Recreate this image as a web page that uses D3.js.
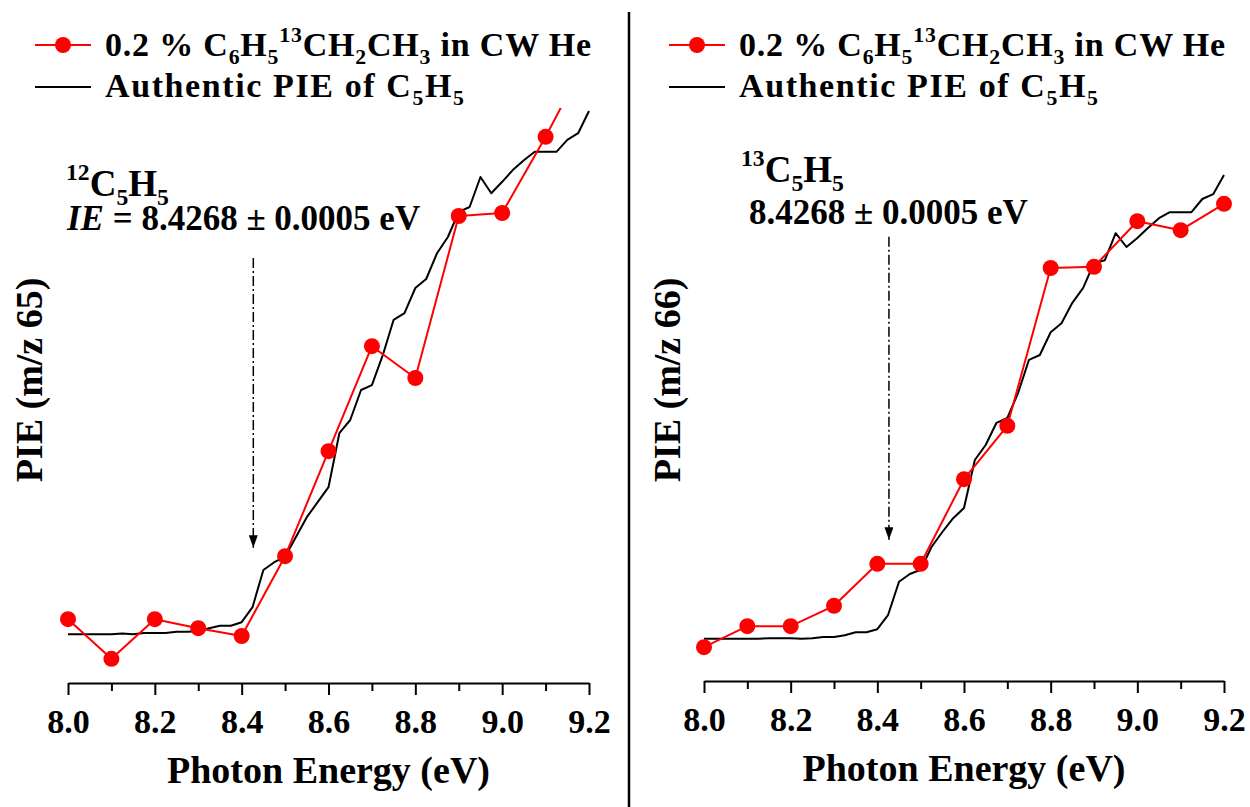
<!DOCTYPE html>
<html>
<head>
<meta charset="utf-8">
<script src="https://cdn.jsdelivr.net/npm/d3@7"></script>
<style>
  body { margin: 0; background: #fff; }
  svg { display: block; }
  svg text { font-family: "Liberation Serif", "DejaVu Serif", serif; font-weight: bold; white-space: pre; }
</style>
</head>
<body>
<svg id="chart" width="1250" height="807"></svg>
<script>
// Photon energies of the sample scan (eV)
const sampleEnergies = [8.0, 8.1, 8.2, 8.3, 8.4, 8.5, 8.6, 8.7, 8.8, 8.9, 9.0, 9.1, 9.2];

// PIE of the 0.2 % C6H5-13CH2CH3 sample (arb. units)
const pie65Sample = [1.08, 0.42, 1.08, 0.93, 0.80, 2.13, 3.88, 5.63, 5.10, 7.80, 7.85, 9.12, 10.50];
const pie66Sample = [0.58, 0.93, 0.93, 1.27, 1.97, 1.97, 3.38, 4.27, 6.90, 6.92, 7.68, 7.53, 7.97];

// Photon energies of the authentic C5H5 reference scan (eV)
const refEnergies = [
  8.000, 8.025, 8.050, 8.075, 8.100, 8.125, 8.150, 8.175, 8.200, 8.225,
  8.250, 8.275, 8.300, 8.325, 8.350, 8.375, 8.400, 8.425, 8.450, 8.475,
  8.500, 8.525, 8.550, 8.575, 8.600, 8.625, 8.650, 8.675, 8.700, 8.725,
  8.750, 8.775, 8.800, 8.825, 8.850, 8.875, 8.900, 8.925, 8.950, 8.975,
  9.000, 9.025, 9.050, 9.075, 9.100, 9.125, 9.150, 9.175, 9.200
];

// Authentic PIE of C5H5, scaled onto each panel (arb. units)
const pie65Reference = [
  0.83, 0.83, 0.83, 0.83, 0.83, 0.84, 0.83, 0.85, 0.85, 0.85,
  0.87, 0.87, 0.88, 0.93, 0.97, 0.97, 1.03, 1.28, 1.90, 2.03,
  2.12, 2.45, 2.78, 3.03, 3.28, 4.18, 4.40, 4.90, 4.98, 5.48,
  6.07, 6.18, 6.60, 6.75, 7.18, 7.45, 7.87, 7.95, 8.45, 8.18,
  8.37, 8.57, 8.73, 8.87, 8.87, 8.87, 9.07, 9.18, 9.55
];
const pie66Reference = [
  0.72, 0.72, 0.72, 0.72, 0.72, 0.72, 0.73, 0.73, 0.73, 0.72,
  0.73, 0.75, 0.75, 0.78, 0.83, 0.83, 0.88, 1.12, 1.67, 1.80,
  1.87, 2.25, 2.50, 2.73, 2.90, 3.70, 3.95, 4.32, 4.40, 4.82,
  5.37, 5.45, 5.83, 5.98, 6.32, 6.57, 6.98, 7.03, 7.48, 7.25,
  7.40, 7.57, 7.73, 7.83, 7.83, 7.83, 8.05, 8.13, 8.45
];

// Axis ticks (eV)
const majorTicks = [8.0, 8.2, 8.4, 8.6, 8.8, 9.0, 9.2];
const minorTicks = [8.1, 8.3, 8.5, 8.7, 8.9, 9.1];

// Ionization energy marked by the arrow (eV)
const ionizationEnergy = 8.4268;

const legendSample = [["0.2 % C", "n"], ["6", "sub"], ["H", "n"], ["5", "sub"], ["13", "sup"],
                      ["CH", "n"], ["2", "sub"], ["CH", "n"], ["3", "sub"], [" in CW He", "n"]];
const legendReference = [["Authentic PIE of C", "n"], ["5", "sub"], ["H", "n"], ["5", "sub"]];

const RED = "#ff0000";
const svg = d3.select("#chart");

// Text with chemical sub/superscripts built from tspans
function richText(parent, x, y, size, parts, extra) {
  const t = parent.append("text").attr("x", x).attr("y", y).attr("font-size", size);
  if (extra) extra(t);
  let shift = 0;
  parts.forEach(([s, kind]) => {
    const target = kind === "sub" ? size * 0.24 : kind === "sup" ? -size * 0.42 : 0;
    const sp = t.append("tspan").attr("dy", target - shift).text(s);
    if (kind === "sub" || kind === "sup") sp.attr("font-size", size * 0.64);
    if (kind === "i") sp.attr("font-style", "italic");
    shift = target;
  });
  return t;
}

const panels = [
  {
    x0: 68, x1: 589, yBase: 684, sample: pie65Sample, reference: pie65Reference,
    yLabel: "PIE (m/z 65)", yLabelX: 42, legendX: 35,
    arrowTop: 7.1, arrowTip: 2.27,
    note: { x: 66, y: 196, iso: "12", ieX: 67, ieY: 230,
            ie: [["IE", "i"], [" = 8.4268 ± 0.0005 eV", "n"]] }
  },
  {
    x0: 704, x1: 1224, yBase: 682, sample: pie66Sample, reference: pie66Reference,
    yLabel: "PIE (m/z 66)", yLabelX: 680, legendX: 669,
    arrowTop: 7.42, arrowTip: 2.37,
    note: { x: 741, y: 182, iso: "13", ieX: 749, ieY: 224,
            ie: [["8.4268 ± 0.0005 eV", "n"]] }
  }
];

const defs = svg.append("defs");
defs.append("marker")
  .attr("id", "arrowhead").attr("viewBox", "0 0 10 14")
  .attr("refX", 5).attr("refY", 14)
  .attr("markerWidth", 9).attr("markerHeight", 13)
  .attr("markerUnits", "userSpaceOnUse").attr("orient", "0")
  .append("path").attr("d", "M0,0 L10,0 L5,14 Z").attr("fill", "#000");

panels.forEach((p, i) => {
  const x = d3.scaleLinear().domain([8.0, 9.2]).range([p.x0, p.x1]);
  const y = d3.scaleLinear().domain([0, 10]).range([p.yBase, p.yBase - 600]);
  const g = svg.append("g");

  const clipId = "plotclip" + i;
  defs.append("clipPath").attr("id", clipId)
    .append("rect")
    .attr("x", x(8.0) - 15).attr("y", y(9.6))
    .attr("width", x(9.2) - x(8.0) + 30).attr("height", y(-1) - y(9.6));

  // x axis: major ticks with labels, minor ticks without
  const axisY = y(0) - 1;
  const major = g.append("g").attr("transform", `translate(0,${axisY})`)
    .call(d3.axisBottom(x).tickValues(majorTicks).tickFormat(d3.format(".1f"))
      .tickSize(12).tickSizeOuter(0));
  major.attr("font-family", null).attr("font-size", null);
  major.select(".domain").attr("stroke", "#000").attr("stroke-width", 2);
  major.selectAll(".tick line").attr("stroke", "#000").attr("stroke-width", 2);
  major.selectAll(".tick text").attr("y", 50).attr("dy", 0)
    .attr("font-size", 34).attr("fill", "#000");

  const minor = g.append("g").attr("transform", `translate(0,${axisY})`)
    .call(d3.axisBottom(x).tickValues(minorTicks).tickFormat("").tickSize(8).tickSizeOuter(0));
  minor.select(".domain").remove();
  minor.selectAll(".tick line").attr("stroke", "#000").attr("stroke-width", 2);

  // axis titles
  g.append("text").attr("x", (p.x0 + p.x1) / 2).attr("y", axisY + 100)
    .attr("text-anchor", "middle").attr("font-size", 38).text("Photon Energy (eV)");
  g.append("text").attr("transform", `translate(${p.yLabelX},380) rotate(-90)`)
    .attr("text-anchor", "middle").attr("font-size", 38).text(p.yLabel);

  // data
  const plot = g.append("g").attr("clip-path", `url(#${clipId})`);
  const line = d3.line().x(d => x(d[0])).y(d => y(d[1]));

  const refPts = refEnergies.map((e, k) => [e, p.reference[k]]);
  plot.append("path").datum(refPts).attr("d", line)
    .attr("fill", "none").attr("stroke", "#000").attr("stroke-width", 2)
    .attr("stroke-linejoin", "round");

  const samplePts = sampleEnergies.map((e, k) => [e, p.sample[k]]);
  plot.append("path").datum(samplePts).attr("d", line)
    .attr("fill", "none").attr("stroke", RED).attr("stroke-width", 2)
    .attr("stroke-linejoin", "round");
  plot.selectAll("circle").data(samplePts).join("circle")
    .attr("cx", d => x(d[0])).attr("cy", d => y(d[1])).attr("r", 8).attr("fill", RED);

  // ionization energy arrow
  g.append("line")
    .attr("x1", x(ionizationEnergy)).attr("x2", x(ionizationEnergy))
    .attr("y1", y(p.arrowTop)).attr("y2", y(p.arrowTip))
    .attr("stroke", "#000").attr("stroke-width", 1.5)
    .attr("stroke-dasharray", "10,3,2,3")
    .attr("marker-end", "url(#arrowhead)");

  // annotation: isotopologue and its ionization energy
  const n = p.note;
  richText(g, n.x, n.y, 37, [[n.iso, "sup"], ["C", "n"], ["5", "sub"], ["H", "n"], ["5", "sub"]]);
  richText(g, n.ieX, n.ieY, 35, n.ie);

  // legend
  const lg = g.append("g");
  lg.append("line").attr("x1", p.legendX).attr("x2", p.legendX + 56).attr("y1", 45).attr("y2", 45)
    .attr("stroke", RED).attr("stroke-width", 2);
  lg.append("circle").attr("cx", p.legendX + 28).attr("cy", 45).attr("r", 8).attr("fill", RED);
  richText(lg, p.legendX + 70, 56, 34, legendSample, t => t.attr("letter-spacing", 0.8));
  lg.append("line").attr("x1", p.legendX).attr("x2", p.legendX + 56).attr("y1", 87).attr("y2", 87)
    .attr("stroke", "#000").attr("stroke-width", 2);
  richText(lg, p.legendX + 70, 97, 34, legendReference, t => t.attr("letter-spacing", 1.6));
});

// divider between the two panels
svg.append("line").attr("x1", 629).attr("x2", 629).attr("y1", 12).attr("y2", 807)
  .attr("stroke", "#000").attr("stroke-width", 2.5);
</script>
</body>
</html>
